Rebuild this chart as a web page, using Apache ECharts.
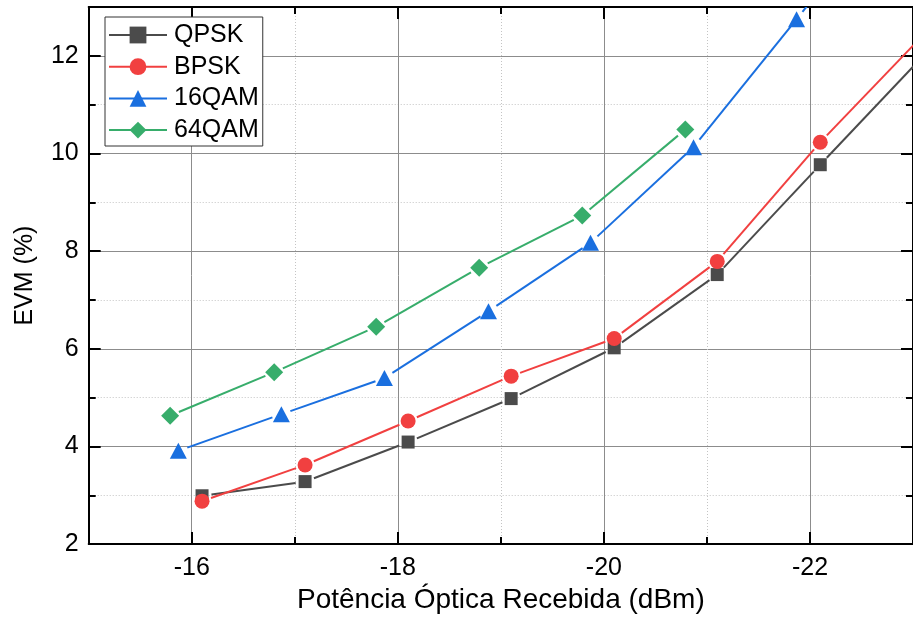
<!DOCTYPE html>
<html>
<head>
<meta charset="utf-8">
<script src="https://cdn.jsdelivr.net/npm/echarts@6/dist/echarts.min.js"></script>
<style>
  html, body { margin: 0; padding: 0; background: #fff; }
  #chart { width: 913px; height: 619px; }
</style>
</head>
<body>
<div id="chart"></div>
<script>
// Received optical power (dBm) and measured EVM (%) per modulation format
const qpskPower = [-16.10, -17.10, -18.10, -19.10, -20.10, -21.10, -22.10, -23.10];
const qpskEvm   = [2.99, 3.28, 4.09, 4.98, 6.02, 7.52, 9.77, 12.0];
const bpskPower = [-16.10, -17.10, -18.10, -19.10, -20.10, -21.10, -22.10, -23.10];
const bpskEvm   = [2.88, 3.62, 4.52, 5.44, 6.21, 7.79, 10.23, 12.43];
const qam16Power = [-15.87, -16.87, -17.87, -18.88, -19.87, -20.87, -21.87, -22.87];
const qam16Evm   = [3.91, 4.66, 5.40, 6.77, 8.17, 10.13, 12.75, 15.4];
const qam64Power = [-15.79, -16.80, -17.79, -18.79, -19.79, -20.79];
const qam64Evm   = [4.63, 5.52, 6.45, 7.66, 8.73, 10.49];

const seriesNames = ['QPSK', 'BPSK', '16QAM', '64QAM'];

// Axis ticks
const xMajorTicks = [-22, -20, -18, -16];
const xMinorTicks = [-21, -19, -17];
const yMajorTicks = [2, 4, 6, 8, 10, 12];
const yMinorTicks = [3, 5, 7, 9, 11];

const FONT = 'Liberation Sans, Arial, sans-serif';
const pairs = (xs, ys) => xs.map((x, i) => [x, ys[i]]);

const chart = echarts.init(document.getElementById('chart'), null, { renderer: 'canvas' });

function xAxisDef(pos, major, withLabels) {
  return {
    type: 'value', position: pos, min: -23, max: -15, inverse: true,
    axisLine: { show: major, onZero: false, lineStyle: { color: '#000', width: 2 } },
    axisTick: {
      show: true, inside: true, length: major ? 12 : 7,
      customValues: major ? xMajorTicks : xMinorTicks,
      lineStyle: { color: '#000', width: 2 }
    },
    axisLabel: withLabels ? {
      show: true, customValues: xMajorTicks, color: '#000',
      fontFamily: FONT, fontSize: 25, margin: 12
    } : { show: false },
    splitLine: pos === 'bottom' ? {
      show: true,
      lineStyle: major ? { color: '#8c8c8c', width: 1, type: 'solid' }
                       : { color: '#c4c4c4', width: 1, type: [1, 2] }
    } : { show: false },
    name: withLabels ? 'Potência Óptica Recebida (dBm)' : '',
    nameLocation: 'middle', nameGap: 40,
    nameTextStyle: { color: '#000', fontFamily: FONT, fontSize: 28 }
  };
}

function yAxisDef(pos, major, withLabels) {
  return {
    type: 'value', position: pos, min: 2, max: 13,
    axisLine: { show: major, onZero: false, lineStyle: { color: '#000', width: 2 } },
    axisTick: {
      show: true, inside: true, length: major ? 12 : 7,
      customValues: major ? yMajorTicks : yMinorTicks,
      lineStyle: { color: '#000', width: 2 }
    },
    axisLabel: withLabels ? {
      show: true, customValues: yMajorTicks, color: '#000',
      fontFamily: FONT, fontSize: 25, margin: 10
    } : { show: false },
    splitLine: pos === 'left' ? {
      show: true,
      lineStyle: major ? { color: '#8c8c8c', width: 1, type: 'solid' }
                       : { color: '#c4c4c4', width: 1, type: [1, 2] }
    } : { show: false },
    name: withLabels ? 'EVM (%)' : '',
    nameLocation: 'middle', nameGap: 51,
    nameTextStyle: { color: '#000', fontFamily: FONT, fontSize: 25 }
  };
}

const colors = ['#4b4b4b', '#f14040', '#1a6fdf', '#37ad6b'];
const symbols = ['rect', 'circle', 'triangle', 'diamond'];
const symbolSizes = [13, 15, [17, 16], 18];
const powers = [qpskPower, bpskPower, qam16Power, qam64Power];
const evms = [qpskEvm, bpskEvm, qam16Evm, qam64Evm];
const GAP = 9.5; // line stops this many pixels short of each marker centre

// Connecting segments, broken around each marker
function segmentSeries(k) {
  const xs = powers[k], ys = evms[k];
  return {
    name: seriesNames[k] + ' link',
    type: 'custom',
    xAxisIndex: 0, yAxisIndex: 0,
    clip: true,
    silent: true,
    z: 2 + k,
    encode: { x: 0, y: 1 },
    data: pairs(xs, ys),
    renderItem: function (params, api) {
      const i = params.dataIndex;
      if (i >= xs.length - 1) return null;
      const a = api.coord([xs[i], ys[i]]);
      const b = api.coord([xs[i + 1], ys[i + 1]]);
      const dx = b[0] - a[0], dy = b[1] - a[1];
      const len = Math.sqrt(dx * dx + dy * dy);
      if (len <= 2 * GAP) return null;
      const ux = dx / len, uy = dy / len;
      return {
        type: 'line',
        shape: {
          x1: a[0] + ux * GAP, y1: a[1] + uy * GAP,
          x2: b[0] - ux * GAP, y2: b[1] - uy * GAP
        },
        style: { stroke: colors[k], lineWidth: 2, lineCap: 'butt' }
      };
    }
  };
}

// Markers (line itself hidden; segments above draw the connections)
function markerSeries(k) {
  return {
    name: seriesNames[k],
    type: 'line',
    xAxisIndex: 0, yAxisIndex: 0,
    data: pairs(powers[k], evms[k]),
    symbol: symbols[k],
    symbolSize: symbolSizes[k],
    showAllSymbol: true,
    clip: true,
    color: colors[k],
    lineStyle: { color: colors[k], width: 2, opacity: 0 },
    itemStyle: { color: colors[k], borderWidth: 0 },
    z: 3 + k
  };
}

const option = {
  animation: false,
  backgroundColor: '#fff',
  grid: { left: 88.7, top: 7, right: -7.7, bottom: 73.8, containLabel: false },
  xAxis: [
    xAxisDef('bottom', true, true),
    xAxisDef('bottom', false, false),
    xAxisDef('top', true, false),
    xAxisDef('top', false, false)
  ],
  yAxis: [
    yAxisDef('left', true, true),
    yAxisDef('left', false, false),
    yAxisDef('right', true, false),
    yAxisDef('right', false, false)
  ],
  legend: {
    orient: 'vertical', left: 105, top: 17,
    padding: [5.5, 4, 3.4, 3],
    itemWidth: 58, itemHeight: 21, itemGap: 6.7,
    backgroundColor: '#fff', borderColor: '#333', borderWidth: 1, borderRadius: 0,
    textStyle: { color: '#000', fontFamily: FONT, fontSize: 25, lineHeight: 25, padding: [0, 0, 0, 2] },
    data: seriesNames.map((name, k) => ({
      name: name,
      lineStyle: { color: colors[k], width: 2, opacity: 1 }
    }))
  },
  series: [0, 1, 2, 3].map(segmentSeries).concat([0, 1, 2, 3].map(markerSeries))
};

chart.setOption(option);
</script>
</body>
</html>
